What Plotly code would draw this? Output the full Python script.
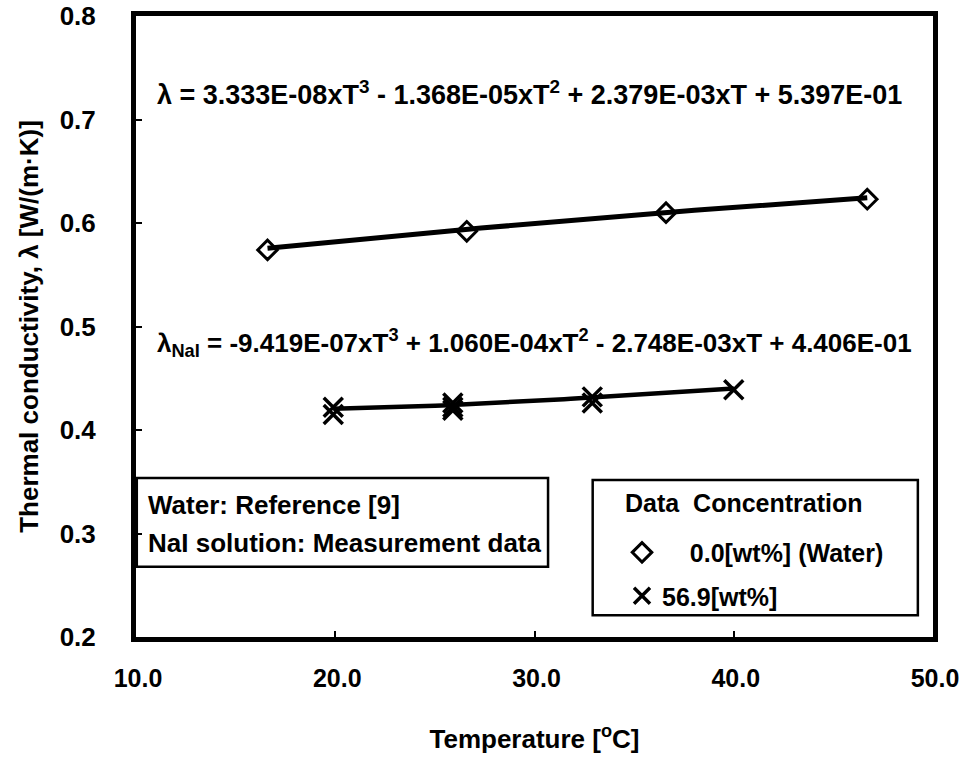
import numpy as np
import plotly.graph_objects as go

# Data
water_T = [16.6, 26.6, 36.6, 46.7]
water_k = [0.574, 0.592, 0.610, 0.623]
nai_T = [19.9, 19.9, 25.9, 25.9, 25.9, 32.9, 32.9, 40.0]
nai_k = [0.422, 0.415, 0.426, 0.422, 0.419, 0.432, 0.426, 0.439]

# Trendline coefficients as printed on the chart (highest power first)
water_coef = [3.333e-08, -1.368e-05, 2.379e-03, 5.397e-01]
nai_coef = [-9.419e-07, 1.060e-04, -2.748e-03, 4.406e-01]

x_ticks = [10, 20, 30, 40, 50]
x_tick_labels = ["10.0", "20.0", "30.0", "40.0", "50.0"]
y_ticks = [0.2, 0.3, 0.4, 0.5, 0.6, 0.7, 0.8]
y_tick_labels = ["0.2", "0.3", "0.4", "0.5", "0.6", "0.7", "0.8"]

FONT = "Liberation Sans"
NB = "\u00a0"


def bold(size):
    return dict(size=size, family=FONT, color="black", weight="bold")


fig = go.Figure()

wT = np.linspace(min(water_T), max(water_T), 60)
fig.add_trace(go.Scatter(x=wT, y=np.polyval(water_coef, wT), mode="lines",
                         line=dict(color="black", width=5), showlegend=False, hoverinfo="skip"))
nT = np.linspace(min(nai_T), max(nai_T), 60)
fig.add_trace(go.Scatter(x=nT, y=np.polyval(nai_coef, nT), mode="lines",
                         line=dict(color="black", width=4.5), showlegend=False, hoverinfo="skip"))

fig.add_trace(go.Scatter(x=water_T, y=water_k, mode="markers", name=NB * 4 + "0.0[wt%] (Water)",
                         legendgroup="a",
                         marker=dict(symbol="diamond-open", size=15, color="black",
                                     line=dict(width=3, color="black"))))
fig.add_trace(go.Scatter(x=nai_T, y=nai_k, mode="markers", name="56.9[wt%]",
                         legendgroup="b",
                         marker=dict(symbol="x-thin-open", size=19, color="black",
                                     line=dict(width=3.5, color="black"))))

eq1 = "λ = 3.333E-08xT<sup>3</sup> - 1.368E-05xT<sup>2</sup> + 2.379E-03xT + 5.397E-01"
eq2 = "λ<sub>NaI</sub> = -9.419E-07xT<sup>3</sup> + 1.060E-04xT<sup>2</sup> - 2.748E-03xT + 4.406E-01"

ann = [
    dict(x=0.024, y=0.876, xref="paper", yref="paper", text=eq1, showarrow=False,
         xanchor="left", yanchor="middle", font=bold(27)),
    dict(x=0.024, y=0.474, xref="paper", yref="paper", text=eq2, showarrow=False,
         xanchor="left", yanchor="middle", font=bold(26)),
    dict(x=0.012, y=0.2126, xref="paper", yref="paper", text="Water: Reference [9]",
         showarrow=False, xanchor="left", yanchor="middle", font=bold(26)),
    dict(x=0.012, y=0.1514, xref="paper", yref="paper", text="NaI solution: Measurement data",
         showarrow=False, xanchor="left", yanchor="middle", font=bold(26)),
    dict(x=(623 - 136) / 797, y=(637 - 503) / 621, xref="paper", yref="paper",
         text="Data" + NB * 2 + "Concentration",
         showarrow=False, xanchor="left", yanchor="middle", font=bold(25)),
]

shapes = [
    dict(type="rect", xref="paper", yref="paper", x0=0.001, x1=0.517, y0=0.113, y1=0.256,
         line=dict(color="black", width=2.5)),
    dict(type="rect", xref="paper", yref="paper", x0=0.573, x1=0.981, y0=0.035, y1=0.253,
         line=dict(color="black", width=2.5)),
]

fig.update_layout(
    width=961, height=760,
    margin=dict(l=136, r=28, t=16, b=123),
    paper_bgcolor="white", plot_bgcolor="white",
    font=dict(family=FONT, color="black", size=25),
    annotations=ann, shapes=shapes,
    legend=dict(x=(622 - 136) / 797, y=0.173, xanchor="left", yanchor="top", bgcolor="rgba(0,0,0,0)",
                font=bold(25), tracegroupgap=8, itemsizing="trace"),
    xaxis=dict(range=[10, 50], tickvals=x_ticks, ticktext=x_tick_labels, showgrid=False, zeroline=False,
               showline=True, linecolor="black", linewidth=5, mirror=True, automargin=False,
               ticks="inside", ticklen=6, tickcolor="black", tickwidth=2,
               tickfont=bold(25), ticklabelstandoff=15, ticklabelshift=2, ticklabeloverflow="allow",
               title=dict(text="Temperature [<sup>o</sup>C]", standoff=40, font=bold(26))),
    yaxis=dict(range=[0.2, 0.8], tickvals=y_ticks, ticktext=y_tick_labels, showgrid=False, zeroline=False,
               showline=True, linecolor="black", linewidth=5, mirror=True, automargin=False,
               ticks="inside", ticklen=6, tickcolor="black", tickwidth=2,
               tickfont=bold(26), ticklabelstandoff=30, ticklabeloverflow="allow",
               title=dict(text="Thermal conductivity, λ [W/(m·K)]", standoff=15, font=bold(26))),
)

fig.write_html("out.html")
